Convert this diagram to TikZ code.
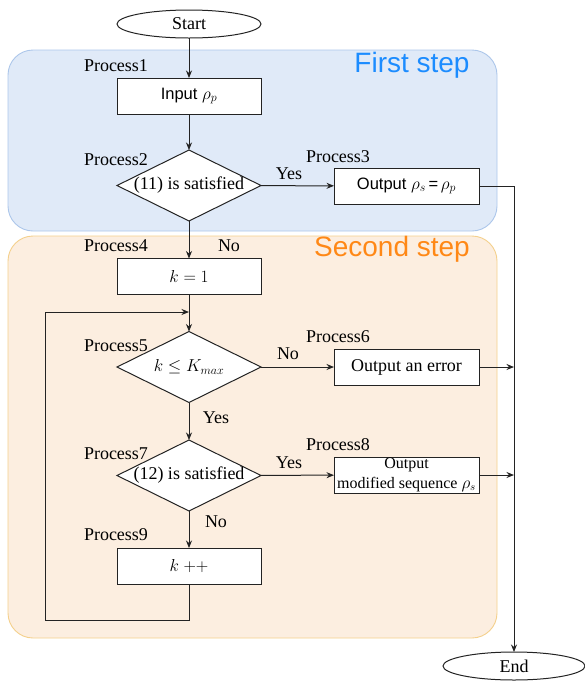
\documentclass[tikz,border=0pt]{standalone}
\usepackage{fontspec}
\setmainfont{Liberation Serif}
\setsansfont{Liberation Sans}
\usetikzlibrary{shapes.geometric,arrows.meta}

\definecolor{stepblue}{RGB}{224,234,248}
\definecolor{stepblueline}{RGB}{172,198,234}
\definecolor{stepbluetext}{RGB}{28,140,255}
\definecolor{steporange}{RGB}{252,238,224}
\definecolor{steporangeline}{RGB}{244,208,140}
\definecolor{steporangetext}{RGB}{255,136,22}
\definecolor{ink}{RGB}{35,35,35}

\begin{document}
\begin{tikzpicture}[x=1pt,y=-1pt,
  every node/.style={inner sep=0pt, outer sep=0pt},
  txt/.style={font=\rmfamily\fontsize{18}{21}\selectfont},
  sanstxt/.style={font=\sffamily\fontsize{16.5}{19}\selectfont},
  procbox/.style={draw=ink, fill=white, line width=1pt, minimum width=144pt, minimum height=36pt},
  decision/.style={draw=ink, fill=white, diamond, line width=1pt, minimum width=144pt, minimum height=71pt},
  terminal/.style={draw=ink, fill=white, ellipse, line width=1pt, minimum width=144pt, minimum height=28pt},
  tag/.style={txt, anchor=west},
  flow/.style={draw=ink, line width=1pt, -{Stealth[length=7.5pt,width=6pt]}},
  region/.style={rounded corners=25pt, line width=0.9pt},
  heading/.style={font=\sffamily\fontsize{28}{32}\selectfont},
]
\path[use as bounding box] (0,0) rectangle (585,681);

% the two stages of the procedure
\draw[region, fill=stepblue, draw=stepblueline] (8,50) rectangle (497,231);
\draw[region, fill=steporange, draw=steporangeline] (8,236) rectangle (497,638);
\node[heading, text=stepbluetext] (firststep) at (412,65) {First step};
\node[heading, text=steporangetext] (secondstep) at (392,249) {Second step};

% flowchart nodes
\node[terminal, txt] (start) at (189,24) {Start};
\node[procbox, sanstxt] (p1) at (189,96) {Input $\rho_p$};
\node[decision] (p2) at (189,185.5) {};
\node[txt] (p2t) at (p2.center) {(11) is satisfied};
\node[procbox, sanstxt, minimum width=145pt] (p3) at (406.5,186) {Output $\rho_s$\,=\,$\rho_p$};
\node[procbox, txt] (p4) at (189,276.5) {$k=1$};
\node[decision] (p5) at (189,367) {};
\node[txt] (p5t) at (p5.center) {$k\le K_{max}$};
\node[procbox, txt, minimum width=145pt] (p6) at (406.5,367) {Output an error};
\node[decision] (p7) at (189,475.5) {};
\node[txt] (p7t) at (p7.center) {(12) is satisfied};
\node[procbox, minimum width=145pt, align=center, font=\rmfamily\fontsize{16}{19.5}\selectfont] (p8) at (406.5,475) {Output\\modified sequence $\rho_s$};
\node[procbox, txt] (p9) at (189,566) {$k\ {+}{+}$};
\node[terminal, txt, minimum width=142pt] (end) at (514,666) {End};

% process tags
\node[tag] (t1) at (84,66) {Process1};
\node[tag] (t2) at (84,160) {Process2};
\node[tag] (t3) at (306,157) {Process3};
\node[tag] (t4) at (84,246) {Process4};
\node[tag] (t5) at (84,346) {Process5};
\node[tag] (t6) at (306,337) {Process6};
\node[tag] (t7) at (84,454) {Process7};
\node[tag] (t8) at (306,445) {Process8};
\node[tag] (t9) at (84,535) {Process9};

% branch labels
\node[txt] (y2) at (289,174) {Yes};
\node[txt] (n2) at (229,246) {No};
\node[txt] (n5) at (288,354) {No};
\node[txt] (y5) at (216,418) {Yes};
\node[txt] (y7) at (289,463) {Yes};
\node[txt] (n7) at (216,522) {No};

% connectors
\draw[flow] (start) -- (p1);
\draw[flow] (p1) -- (p2);
\draw[flow] (p2) -- (p3);
\draw[flow] (p2) -- (p4);
\draw[flow] (p3.east) -| (end.north);
\draw[flow] (p4) -- (p5);
\draw[flow] (p5) -- (p6);
\draw[flow] (p6.east) -- (p6.east -| end.north);
\draw[flow] (p5) -- (p7);
\draw[flow] (p7) -- (p8);
\draw[flow] (p8.east) -- (p8.east -| end.north);
\draw[flow] (p7) -- (p9);

% loop back to the bound check
\coordinate (loopa) at (189,620);
\coordinate (loopb) at (45,620);
\coordinate (loopc) at (45,312);
\coordinate (loopin) at (189,312);
\draw[flow] (p9.south) -- (loopa) -- (loopb) -- (loopc) -- (loopin);
\end{tikzpicture}
\end{document}
